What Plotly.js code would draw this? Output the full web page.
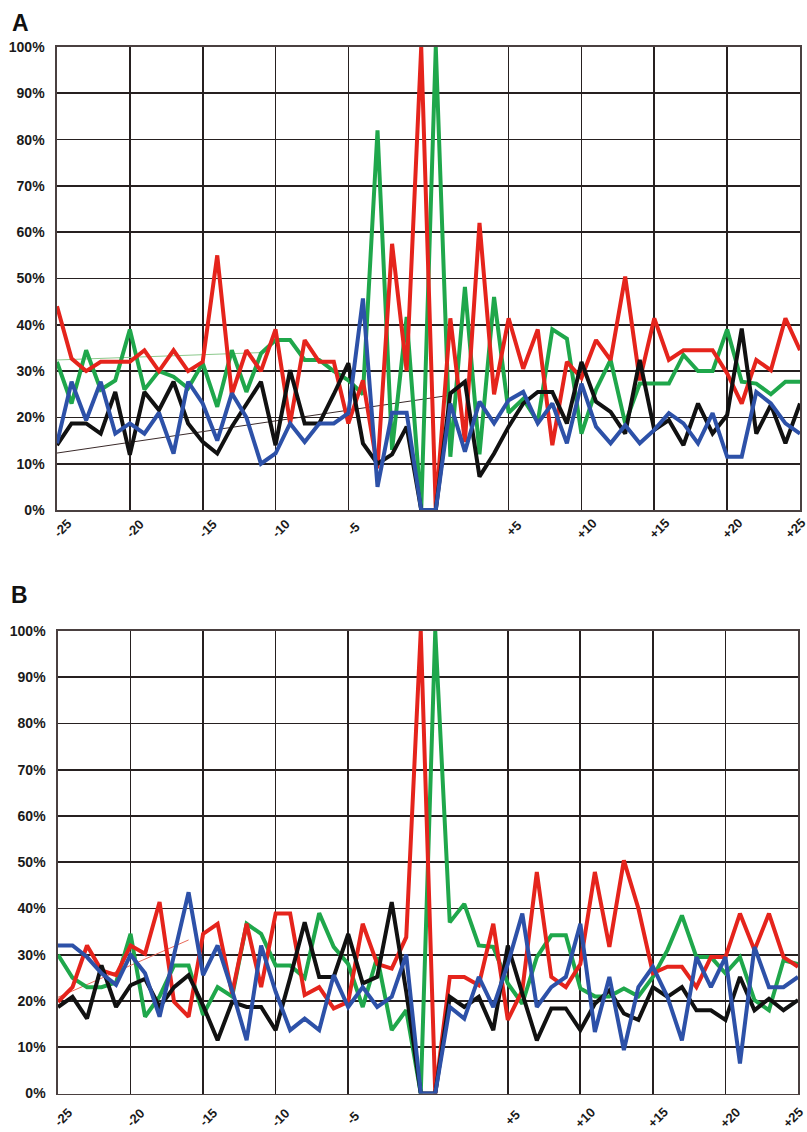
<!DOCTYPE html>
<html>
<head>
<meta charset="utf-8">
<script src="https://cdn.plot.ly/plotly-3.0.1.min.js"></script>
<style>
html,body{margin:0;padding:0;background:#fff;}
#chart{width:807px;height:1132px;}
</style>
</head>
<body>
<div id="chart"></div>
<script>
// Positions relative to the central dinucleotide (two central positions)
const positions = ["-25","-24","-23","-22","-21","-20","-19","-18","-17","-16","-15","-14","-13","-12","-11","-10","-9","-8","-7","-6","-5","-4","-3","-2","-1",
  "0a","0b",
  "+1","+2","+3","+4","+5","+6","+7","+8","+9","+10","+11","+12","+13","+14","+15","+16","+17","+18","+19","+20","+21","+22","+23","+24","+25"];
const tickPositions = ["-25","-20","-15","-10","-5","+5","+10","+15","+20","+25"];
const tickLabels = ["-25","-20","-15","-10","-5","+5","+10","+15","+20","+25"];
const yTicks = [0,10,20,30,40,50,60,70,80,90,100];
const yTickLabels = ["0%","10%","20%","30%","40%","50%","60%","70%","80%","90%","100%"];

// Panel A (% per position)
const redA = [44,32.7,30,32,32,32,34.5,30,34.5,30,32,55,25,34.5,30,39,18.7,36.7,32,32,18.7,28,9,57.5,30,
  100,0,
  41.4,14.7,62,25,41.4,30.5,39,14,32,28.5,36.7,32.4,50.4,28,41.4,32.4,34.5,34.5,34.5,29.5,23,32.4,30.2,41.4,34.5];
const greenA = [32,23,34.5,26,28,39,26,30,28.8,26.3,31.7,22.3,34.5,25.5,33.8,36.7,36.7,32.4,32.4,30,28,25,82,13,41.7,
  0,100,
  11.5,48.2,12,46,21,24,19,39,37,16.5,26,32.4,18.7,27.3,27.3,27.3,33.5,30,30,39,27.7,27.3,25,27.7,27.7];
const blackA = [14,18.7,18.7,16.5,25.5,11.9,25.5,21.6,27.7,18.7,14.7,12.2,18,23,27.7,14,30.2,18.7,18.7,25,31.7,14.4,10,12,18,
  0,0,
  25.2,27.7,7.2,12.2,18,23,25.5,25.5,18.7,32,23.4,21.2,16.5,32.4,17.3,19.4,14,23,16.5,20.5,39.2,16.5,22.7,14.4,23];
const blueA = [14.4,27.7,19.4,27.7,16.5,18.7,16.5,21,12.2,27.7,23,15,25.2,20,10,12.2,18.7,14.7,18.7,18.7,20.9,45.7,5,21,21,
  0,0,
  23,12.6,23.4,18.7,23.7,25.5,18.7,23,14.4,27.3,18,14.4,18.3,14.4,17.3,20.9,18.7,14.4,20.9,11.5,11.5,25.5,23,18.7,16.5];

// Panel B (% per position)
const redB = [19.8,23,32,26.6,25.6,32,30.2,41.4,19.8,16.6,34.5,36.7,21.6,36.7,23,38.9,38.9,21.3,23,18.4,19.8,36.7,28,27,33.8,
  100,0,
  25.2,25.2,23.4,36.7,15.9,22.3,47.9,25.2,23,28,47.9,31.7,50.4,40,26,27.4,27.4,23,29.5,29.5,38.9,31,38.9,29.5,27.4];
const greenB = [30,25,23,23,24,34.5,16.6,21,27.7,27.7,17,23,21,36.7,34.5,27.7,27.7,25,39,31.7,28,18.7,29.5,13.7,18,
  0,100,
  37,41,32,31.7,23.8,19.4,29.5,34.2,34.2,22.7,21,21,22.7,21,25.2,31,38.5,29.5,29.5,26,29.5,20.2,18,28.8,28];
const blackB = [18.7,20.9,16.2,27.7,18.7,23.4,24.8,18.7,23,25.6,19,11.5,19.8,18.7,18.7,13.7,25,37,25.2,25.2,34.5,23.8,25.2,41.4,22,
  0,0,
  20.9,18.7,20.9,13.7,32,21.6,11.5,18.4,18.4,13.7,19.4,22.3,17.3,15.9,23,20.9,23,18,18,15.9,25.2,18,20.5,18,20.2];
const blueB = [32,32,29.5,26,23.5,30,26,16.6,30,43.5,25.6,32,22.3,11.5,32,22,13.7,16.2,13.7,25.6,18.7,23,18.7,20.9,30,
  0,0,
  18.7,16.2,25.2,18.7,28,38.9,18.7,23,25.2,36.7,13.3,25.2,9.4,23,27.4,20.9,11.5,29.5,23,29.5,6.5,31.7,23,23,25.2];

// faint stray guide lines visible in the original figure
const guideA_black_x = ["-25","+1"], guideA_black_y = [12.3,24.8];
const guideA_green_x = ["-25","-11"], guideA_green_y = [32.4,34];
const guideB_red_x = ["-25","-16"], guideB_red_y = [20.8,33.2];

const RED = "#e5241c", GREEN = "#1fa74b", BLUE = "#2d51a8", BLACK = "#111111";
const FONT = "Arial, 'Liberation Sans', sans-serif";

function series(x, y, color, xa, ya, w) {
  return {x: x, y: y, type: "scatter", mode: "lines", xaxis: xa, yaxis: ya,
          line: {color: color, width: w || 4}, hoverinfo: "skip", showlegend: false};
}

const data = [
  series(guideA_black_x, guideA_black_y, "#3a2a2a", "x", "y", 1),
  series(guideA_green_x, guideA_green_y, "#8cc98c", "x", "y", 1),
  series(positions, greenA, GREEN, "x", "y"),
  series(positions, redA, RED, "x", "y"),
  series(positions, blackA, BLACK, "x", "y"),
  series(positions, blueA, BLUE, "x", "y"),
  series(guideB_red_x, guideB_red_y, "#e86a5a", "x2", "y2", 1),
  series(positions, greenB, GREEN, "x2", "y2"),
  series(positions, redB, RED, "x2", "y2"),
  series(positions, blackB, BLACK, "x2", "y2"),
  series(positions, blueB, BLUE, "x2", "y2")
];

const W = 807, H = 1132;
const tickFont = {family: FONT, size: 14, color: "#1a1a1a", weight: "bold"};

function xAxis(l, r, anchor) {
  return {
    type: "category", categoryorder: "array", categoryarray: positions,
    domain: [l / W, r / W], anchor: anchor,
    range: [0, positions.length - 1],
    tickmode: "array", tickvals: tickPositions, showticklabels: false, ticks: "",
    showgrid: true, gridcolor: "#262020", gridwidth: 1.7,
    showline: true, linecolor: "#4a4040", linewidth: 1.6, mirror: true,
    zeroline: false, fixedrange: true
  };
}
function yAxis(top, bottom, anchor) {
  return {
    domain: [1 - bottom / H, 1 - top / H], anchor: anchor,
    range: [0, 100], tickmode: "array", tickvals: yTicks, ticktext: yTickLabels,
    tickfont: tickFont, ticks: "", ticklabelstandoff: 8,
    showgrid: true, gridcolor: "#262020", gridwidth: 1.7,
    showline: true, linecolor: "#4a4040", linewidth: 1.6, mirror: true,
    zeroline: false, fixedrange: true
  };
}

// rotated x tick labels (as annotations so the last one stays inside the page);
// on a category axis the annotation x is the category's index
function xLabels(xref, yref, drop) {
  return tickPositions.map((p, k) => ({
    text: tickLabels[k], x: positions.indexOf(p), y: 0, xref: xref, yref: yref,
    xanchor: "center", yanchor: "middle", textangle: -45, showarrow: false,
    xshift: (k === tickPositions.length - 1) ? -5 : 5, yshift: -drop,
    font: {family: FONT, size: 13, weight: "bold", color: "#1a1a1a"}
  }));
}

const layout = {
  width: W, height: H,
  margin: {l: 0, r: 0, t: 0, b: 0},
  paper_bgcolor: "#ffffff", plot_bgcolor: "#ffffff",
  showlegend: false,
  xaxis: xAxis(57, 800, "y"),
  yaxis: yAxis(47, 510, "x"),
  xaxis2: xAxis(58, 798, "y2"),
  yaxis2: yAxis(631, 1093.5, "x2"),
  annotations: [
    {text: "A", xref: "paper", yref: "paper", x: 10 / W, y: 1 - 8 / H, xanchor: "left", yanchor: "top",
     showarrow: false, font: {family: FONT, size: 23, weight: "bold", color: "#111"}},
    {text: "B", xref: "paper", yref: "paper", x: 9 / W, y: 1 - 580 / H, xanchor: "left", yanchor: "top",
     showarrow: false, font: {family: FONT, size: 23, weight: "bold", color: "#111"}}
  ].concat(xLabels("x", "y", 18), xLabels("x2", "y2", 24))
};

Plotly.newPlot("chart", data, layout, {staticPlot: true, displayModeBar: false});
</script>
</body>
</html>
